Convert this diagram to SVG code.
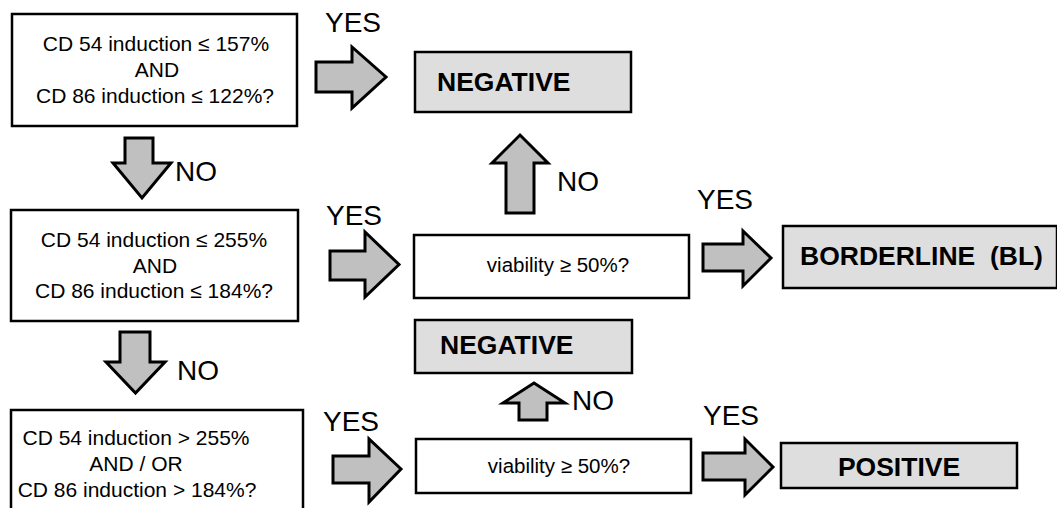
<svg xmlns="http://www.w3.org/2000/svg" width="1057" height="508" viewBox="0 0 1057 508">
<style>
.q{fill:#ffffff;stroke:#000;stroke-width:2.5}
.r{fill:#dedede;stroke:#000;stroke-width:2.5}
.a{fill:#c0c0c0;stroke:#000;stroke-width:3;stroke-linejoin:miter}
.t{font-family:"Liberation Sans",Arial,sans-serif;font-size:21px;fill:#000;text-anchor:middle}
.v{font-family:"Liberation Sans",Arial,sans-serif;font-size:20.5px;fill:#000;text-anchor:middle}
.b{font-family:"Liberation Sans",Arial,sans-serif;font-size:26.5px;font-weight:bold;fill:#000}
.l{font-family:"Liberation Sans",Arial,sans-serif;font-size:28px;fill:#000}
</style>
<rect width="1057" height="508" fill="#ffffff"/>
<g id="q1">
<rect class="q" x="12" y="14" width="285" height="112"/>
<text class="t" x="156" y="51">CD 54 induction ≤ 157%</text>
<text class="t" x="157" y="77">AND</text>
<text class="t" x="155" y="103">CD 86 induction ≤ 122%?</text>
</g>
<g id="q2">
<rect class="q" x="11" y="210" width="287" height="111"/>
<text class="t" x="154" y="247">CD 54 induction ≤ 255%</text>
<text class="t" x="155" y="273">AND</text>
<text class="t" x="154" y="298">CD 86 induction ≤ 184%?</text>
</g>
<g id="q3">
<rect class="q" x="11" y="410" width="292" height="115"/>
<text class="t" x="136" y="445">CD 54 induction &gt; 255%</text>
<text class="t" x="136" y="471">AND / OR</text>
<text class="t" x="137" y="497">CD 86 induction &gt; 184%?</text>
</g>
<g id="neg1">
<rect class="r" x="415" y="52" width="216" height="60"/>
<text class="b" x="437" y="91">NEGATIVE</text>
</g>
<g id="neg2">
<rect class="r" x="415" y="320" width="217" height="53"/>
<text class="b" x="440" y="354">NEGATIVE</text>
</g>
<g id="via1">
<rect class="q" x="414" y="235" width="275" height="63"/>
<text class="v" x="558" y="272">viability ≥ 50%?</text>
</g>
<g id="via2">
<rect class="q" x="416" y="439" width="275" height="54"/>
<text class="v" x="559" y="473">viability ≥ 50%?</text>
</g>
<g id="bl">
<rect class="r" x="783" y="226" width="274" height="62"/>
<text class="b" x="800" y="265" xml:space="preserve">BORDERLINE  (BL)</text>
</g>
<g id="pos">
<rect class="r" x="781" y="443" width="236" height="45"/>
<text class="b" x="899" y="476" text-anchor="middle">POSITIVE</text>
</g>
<g id="connectors">
<polygon class="a" points="316,62 352,62 352,47 386,77 352,108 352,92 316,92"/>
<polygon class="a" points="330,251 365,251 365,232 399,264.5 365,297 365,280 330,280"/>
<polygon class="a" points="333,456 369,456 369,439 401,469 369,502 369,483 333,483"/>
<polygon class="a" points="703,244 743,244 743,231 771,258 743,286 743,271 703,271"/>
<polygon class="a" points="703,453 745,453 745,439 773,467 745,495 745,480 703,480"/>
<polygon class="a" points="125,138 153,138 153,163 171,163 142,198 113,163 125,163"/>
<polygon class="a" points="120,332 150,332 150,362 165,362 135.5,393 106,362 120,362"/>
<polygon class="a" points="506,213 534,213 534,163 548,163 520,135 492,163 506,163"/>
<polygon class="a" points="519,420 547,420 547,403 565,403 534,383 503,403 519,403"/>
<text class="l" x="325" y="32">YES</text>
<text class="l" x="326" y="225">YES</text>
<text class="l" x="323" y="431">YES</text>
<text class="l" x="697" y="209">YES</text>
<text class="l" x="703" y="425">YES</text>
<text class="l" x="175" y="181">NO</text>
<text class="l" x="177" y="380">NO</text>
<text class="l" x="557" y="191">NO</text>
<text class="l" x="572" y="410">NO</text>
</g>
</svg>
